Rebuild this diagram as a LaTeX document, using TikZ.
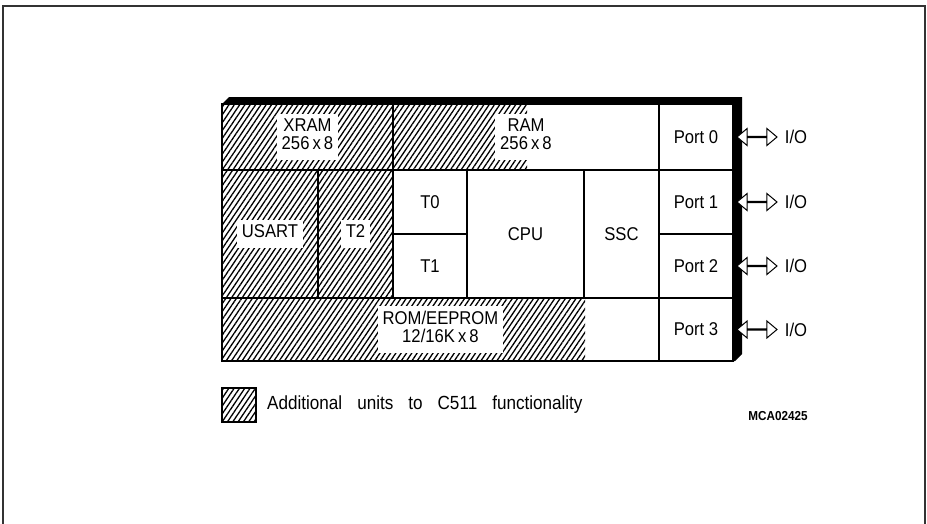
\documentclass[tikz,border=0pt]{standalone}
\usepackage{fontspec}
\setmainfont{Liberation Sans}[FakeStretch=0.9]
\usetikzlibrary{positioning, patterns.meta, shapes.arrows}

\newcommand{\cellfont}{\fontsize{18.5}{18}\selectfont}
\newcommand{\whitelabel}[1]{{\setlength{\fboxsep}{5pt}\colorbox{white}{\begin{tabular}{@{}c@{}}#1\end{tabular}}}}

\begin{document}
\begin{tikzpicture}[
    x=1pt, y=-1pt,
    cell/.style={rectangle, draw, line width=2.5pt, inner sep=0pt, outer sep=0pt,
                 font=\cellfont, align=center},
    hatch/.style={pattern={Lines[angle=56, distance=4.4pt, line width=1.3pt]}},
    ioarr/.style={double arrow, draw, fill=white, line width=1pt, inner sep=0pt,
                  minimum height=40pt, minimum width=17pt,
                  double arrow head extend=5.5pt, double arrow tip angle=80},
    frame/.style={line width=2pt, black!80},
]
\useasboundingbox (0,0) rectangle (927,523);

% page frame
\draw[frame] (3,540) -- (3,6) -- (925,6) -- (925,540);

% hatched areas
\fill[hatch] (222,104) rectangle (393,298);
\fill[hatch] (393,104) rectangle (527,170);
\fill[hatch] (222,298) rectangle (585,361);

% shadow
\fill (222,104) -- (229,97) -- (742,97) -- (742,354) -- (735,361) -- (733,361) -- (733,104) -- cycle;

% row 1
\node[cell, minimum width=171pt, minimum height=66pt, anchor=north west] (xram) at (222,104) {\whitelabel{XRAM\\256\,x\,8}};
\node[cell, minimum width=266pt, minimum height=66pt, right=0pt of xram] (ram) {\whitelabel{RAM\\256\,x\,8}};
\node[cell, minimum width=74pt, minimum height=66pt, right=0pt of ram] (port0) {Port 0};

% row 2
\node[cell, minimum width=96pt, minimum height=128pt, anchor=north west] (usart) at (xram.south west) {\whitelabel{USART}};
\node[cell, minimum width=75pt, minimum height=128pt, right=0pt of usart] (t2) {\whitelabel{T2}};
\node[cell, minimum width=74pt, minimum height=64pt, anchor=north west] (t0) at (t2.north east) {T0};
\node[cell, minimum width=74pt, minimum height=64pt, below=0pt of t0] (t1) {T1};
\node[cell, minimum width=117pt, minimum height=128pt, anchor=north west] (cpu) at (t0.north east) {CPU};
\node[cell, minimum width=75pt, minimum height=128pt, right=0pt of cpu] (ssc) {SSC};
\node[cell, minimum width=74pt, minimum height=64pt, anchor=north west] (port1) at (ssc.north east) {Port 1};
\node[cell, minimum width=74pt, minimum height=64pt, below=0pt of port1] (port2) {Port 2};

% row 3
\node[cell, minimum width=437pt, minimum height=63pt, anchor=north west] (rom) at (usart.south west) {\whitelabel{ROM/EEPROM\\12/16K\,x\,8}};
\node[cell, minimum width=74pt, minimum height=63pt, right=0pt of rom] (port3) {Port 3};

% I/O arrows
\foreach \p in {0,1,2,3} {
  \node[ioarr] (arr\p) at ([xshift=24pt]port\p.east) {};
  \node[font=\cellfont, inner sep=0pt, right=7pt of arr\p] (io\p) {I/O};
}

% legend
\node[cell, hatch, minimum width=34pt, minimum height=34pt] (key) at (239,405) {};
\node[font={\fontsize{19}{19}\selectfont\spaceskip=15pt plus 1pt}, inner sep=0pt, right=11pt of key] (keytext) {Additional units to C511 functionality};
\node[font=\bfseries\fontsize{13}{13}\selectfont, inner sep=0pt] (mca) at (778,416) {MCA02425};

\end{tikzpicture}
\end{document}
